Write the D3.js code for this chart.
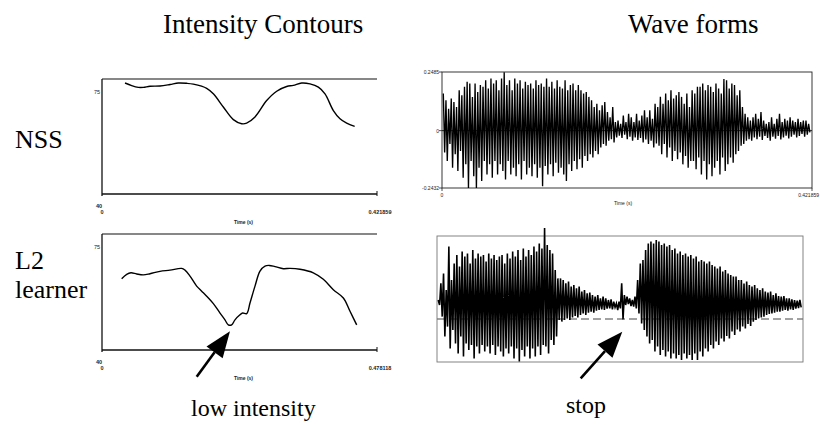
<!DOCTYPE html>
<html>
<head>
<meta charset="utf-8">
<script src="https://cdn.jsdelivr.net/npm/d3@7"></script>
<style>
  body { margin: 0; background: #fff; }
  .serif { font-family: "Liberation Serif", "Times New Roman", serif; fill: #000; }
  .tiny { font-family: "Liberation Sans", Arial, sans-serif; font-size: 5.5px; fill: #222; }
</style>
</head>
<body>
<div class="chart_box"></div>
<script>
// Intensity contours (time in s, intensity in dB)
const nssTime = [0.0353, 0.0455, 0.0557, 0.0634, 0.0736, 0.0890, 0.1043, 0.1171, 0.1299, 0.1401,
  0.1606, 0.1708, 0.1861, 0.2015, 0.2143, 0.2219, 0.2347, 0.2526, 0.2680, 0.2833,
  0.2935, 0.3063, 0.3191, 0.3319, 0.3421, 0.3549, 0.3651, 0.3753, 0.3876];
const nssDb = [77.9, 77.0, 76.4, 76.4, 76.8, 76.9, 77.4, 77.9, 77.8, 77.5,
  76.1, 74.2, 69.7, 65.4, 64.0, 64.2, 66.3, 71.9, 75.1, 76.7,
  77.1, 77.9, 77.6, 76.5, 74.2, 68.5, 65.7, 64.2, 63.1];

const l2Time = [0.0342, 0.0429, 0.0504, 0.0603, 0.0719, 0.0835, 0.1008, 0.1182, 0.1385, 0.1443,
  0.1530, 0.1646, 0.1733, 0.1820, 0.1936, 0.2052, 0.2138, 0.2196, 0.2254, 0.2312,
  0.2399, 0.2446, 0.2515, 0.2573, 0.2660, 0.2747, 0.2834, 0.2909, 0.3008, 0.3153,
  0.3268, 0.3442, 0.3674, 0.3848, 0.4022, 0.4196, 0.4312, 0.4428];
const l2Db = [64.1, 65.6, 66.1, 65.7, 65.4, 65.8, 66.6, 67.0, 67.6, 67.0,
  65.0, 61.6, 59.9, 58.2, 55.7, 52.5, 50.2, 48.5, 48.5, 50.2,
  51.9, 52.5, 52.3, 55.9, 61.6, 66.7, 68.4, 68.6, 68.2, 67.5,
  67.6, 67.3, 66.1, 63.9, 60.4, 57.6, 53.1, 48.5];

// Waveforms: positive and negative peak of each pitch period
const nssWaveHi = [0.157, 0.129, 0.093, 0.136, 0.121, 0.100, 0.171, 0.150, 0.186, 0.207,
  0.200, 0.143, 0.200, 0.164, 0.193, 0.186, 0.214, 0.179, 0.221, 0.200,
  0.214, 0.171, 0.221, 0.247, 0.193, 0.214, 0.171, 0.221, 0.200, 0.214,
  0.179, 0.207, 0.193, 0.200, 0.179, 0.214, 0.193, 0.200, 0.186, 0.221,
  0.186, 0.207, 0.179, 0.214, 0.186, 0.179, 0.214, 0.171, 0.193, 0.200,
  0.171, 0.193, 0.171, 0.157, 0.164, 0.143, 0.129, 0.100, 0.114, 0.086,
  0.107, 0.121, 0.079, 0.057, 0.100, 0.036, 0.043, 0.029, 0.064,
  0.036, 0.071, 0.057, 0.036, 0.071, 0.043, 0.064, 0.086, 0.057, 0.086, 0.050, 0.114,
  0.100, 0.143, 0.114, 0.157, 0.129, 0.171, 0.136, 0.150, 0.164, 0.143,
  0.114, 0.157, 0.100, 0.171, 0.157, 0.186, 0.186, 0.200, 0.171, 0.193,
  0.186, 0.164, 0.200, 0.179, 0.157, 0.219, 0.214, 0.179, 0.200, 0.193,
  0.150, 0.171, 0.100, 0.071, 0.057, 0.043, 0.057,
  0.071, 0.050, 0.079, 0.043, 0.029, 0.036, 0.057, 0.029, 0.050, 0.071,
  0.036, 0.050, 0.043, 0.057, 0.043, 0.036, 0.050, 0.036, 0.043, 0.043, 0.029];
const nssWaveLo = [-0.093, -0.129, -0.057, -0.157, -0.100, -0.171, -0.086, -0.200, -0.143, -0.243,
  -0.129, -0.193, -0.243, -0.157, -0.214, -0.129, -0.186, -0.143, -0.200, -0.129,
  -0.186, -0.143, -0.171, -0.207, -0.129, -0.186, -0.157, -0.193, -0.143, -0.207,
  -0.129, -0.186, -0.157, -0.193, -0.143, -0.200, -0.157, -0.236, -0.150, -0.186,
  -0.143, -0.193, -0.136, -0.179, -0.157, -0.186, -0.214, -0.143, -0.171, -0.129,
  -0.164, -0.121, -0.157, -0.107, -0.129, -0.100, -0.114, -0.086, -0.100, -0.071,
  -0.057, -0.064, -0.043, -0.036, -0.050, -0.029, -0.021, -0.031, -0.017,
  -0.036, -0.026, -0.043, -0.029, -0.040, -0.031, -0.050, -0.037, -0.057, -0.043, -0.071, -0.054,
  -0.064, -0.100, -0.057, -0.114, -0.071, -0.129, -0.086, -0.121, -0.093, -0.143,
  -0.107, -0.157, -0.129, -0.129, -0.164, -0.114, -0.186, -0.129, -0.207, -0.143,
  -0.193, -0.157, -0.129, -0.186, -0.114, -0.171, -0.143, -0.114, -0.136, -0.100,
  -0.086, -0.064, -0.057, -0.043, -0.036, -0.043, -0.029,
  -0.036, -0.026, -0.040, -0.023, -0.031, -0.043, -0.026, -0.034, -0.023, -0.037,
  -0.029, -0.021, -0.033, -0.026, -0.017, -0.029, -0.023, -0.014, -0.026, -0.017, -0.007];

const l2WaveHi = [0.095, 0.178, 0.228, 0.145, 0.362, 0.195, 0.278, 0.320, 0.262, 0.337,
  0.312, 0.328, 0.278, 0.345, 0.303, 0.328, 0.312, 0.320, 0.287, 0.328,
  0.303, 0.320, 0.295, 0.312, 0.320, 0.278, 0.328, 0.303, 0.337, 0.312,
  0.345, 0.295, 0.353, 0.312, 0.345, 0.320, 0.362, 0.337, 0.378, 0.353,
  0.455, 0.370, 0.345, 0.328, 0.245, 0.203, 0.203, 0.195, 0.178, 0.187,
  0.162, 0.170, 0.153, 0.162, 0.137, 0.145, 0.128, 0.132, 0.120, 0.112,
  0.120, 0.103, 0.112, 0.103, 0.095, 0.098, 0.087, 0.078, 0.087, 0.178,
  0.120, 0.112, 0.103, 0.095, 0.112, 0.195, 0.278, 0.295, 0.345, 0.378,
  0.387, 0.378, 0.395, 0.387, 0.370, 0.378, 0.362, 0.370, 0.345, 0.353,
  0.328, 0.337, 0.320, 0.328, 0.312, 0.320, 0.303, 0.312, 0.287, 0.295,
  0.287, 0.278, 0.287, 0.270, 0.262, 0.253, 0.262, 0.237, 0.245, 0.228,
  0.220, 0.212, 0.212, 0.195, 0.195, 0.178, 0.187, 0.170, 0.162, 0.170,
  0.153, 0.145, 0.153, 0.137, 0.132, 0.137, 0.120, 0.128, 0.115, 0.112,
  0.115, 0.103, 0.103, 0.098, 0.095, 0.092, 0.095];
const l2WaveLo = [0.070, 0.012, -0.088, -0.038, -0.147, -0.055, -0.122, -0.172, -0.088, -0.188,
  -0.122, -0.155, -0.130, -0.197, -0.138, -0.172, -0.130, -0.163, -0.138, -0.172,
  -0.130, -0.180, -0.138, -0.163, -0.188, -0.147, -0.172, -0.138, -0.197, -0.147,
  -0.213, -0.155, -0.188, -0.138, -0.197, -0.147, -0.188, -0.138, -0.180, -0.130,
  -0.138, -0.172, -0.105, -0.130, -0.088, -0.005, -0.013, -0.005, 0.003, -0.005,
  0.008, 0.015, 0.008, 0.020, 0.028, 0.020, 0.032, 0.037, 0.032, 0.042,
  0.045, 0.048, 0.045, 0.052, 0.053, 0.048, 0.058, 0.045, 0.053, -0.002,
  0.070, 0.075, 0.065, 0.062, 0.053, 0.028, -0.022, -0.055, -0.088, -0.122,
  -0.105, -0.163, -0.138, -0.180, -0.155, -0.188, -0.163, -0.197, -0.172, -0.197,
  -0.180, -0.205, -0.172, -0.197, -0.180, -0.205, -0.172, -0.205, -0.163, -0.188,
  -0.147, -0.163, -0.130, -0.147, -0.113, -0.130, -0.097, -0.113, -0.085, -0.097,
  -0.063, -0.080, -0.052, -0.063, -0.038, -0.047, -0.025, -0.035, -0.013, -0.005,
  0.003, 0.008, 0.012, 0.020, 0.025, 0.028, 0.032, 0.037, 0.037, 0.042,
  0.045, 0.042, 0.048, 0.045, 0.052, 0.055, 0.058];

// Axis end values and tick labels
const nssDuration = 0.421859;
const l2Duration = 0.478118;
const nssWaveSpan = [0.0015, 0.418];
const l2WaveSpan = [0.0016, 0.474];
const waveTicks = [0.2485, 0, -0.2432];
const waveTickLabels = ["0.2485", "0", "-0.2432"];

const svg = d3
  .select(".chart_box")
  .append("svg")
  .attr("width", 820)
  .attr("height", 425);

// Column titles and row labels
svg.append("text").attr("class", "serif").attr("x", 163).attr("y", 33)
  .style("font-size", "27px").text("Intensity Contours");
svg.append("text").attr("class", "serif").attr("x", 628).attr("y", 33)
  .style("font-size", "27px").text("Wave forms");
svg.append("text").attr("class", "serif").attr("x", 15).attr("y", 148)
  .style("font-size", "26px").text("NSS");
svg.append("text").attr("class", "serif").attr("x", 15).attr("y", 269)
  .style("font-size", "26px").text("L2");
svg.append("text").attr("class", "serif").attr("x", 15).attr("y", 298)
  .style("font-size", "26px").text("learner");
svg.append("text").attr("class", "serif").attr("x", 191).attr("y", 416)
  .style("font-size", "24px").text("low intensity");
svg.append("text").attr("class", "serif").attr("x", 566).attr("y", 413)
  .style("font-size", "24px").text("stop");

// Intensity panel
function intensityPanel(time, db, duration, left, right, top, bottom, endLabel) {
  const x = d3.scaleLinear().domain([0, duration]).range([left, right]);
  const y = d3.scaleLinear().domain([40, 75]).range([bottom, top + 12.5]);
  const g = svg.append("g");

  // frame
  g.append("line").attr("x1", left).attr("x2", right).attr("y1", top).attr("y2", top)
    .attr("stroke", "#111").attr("stroke-width", 1.2);
  g.append("line").attr("x1", left).attr("x2", left).attr("y1", top).attr("y2", bottom + 2)
    .attr("stroke", "#111").attr("stroke-width", 1.3);
  g.append("line").attr("x1", left).attr("x2", right).attr("y1", bottom).attr("y2", bottom)
    .attr("stroke", "#111").attr("stroke-width", 1.3);
  g.append("line").attr("x1", right).attr("x2", right).attr("y1", bottom - 3).attr("y2", bottom + 2)
    .attr("stroke", "#111").attr("stroke-width", 1);

  g.append("text").attr("class", "tiny").attr("x", left - 2).attr("y", y(75) + 2)
    .attr("text-anchor", "end").text("75");
  g.append("text").attr("class", "tiny").attr("x", left - 3).attr("y", bottom + 14)
    .attr("text-anchor", "middle").style("font-weight", "bold").text("40");
  g.append("text").attr("class", "tiny").attr("x", left).attr("y", bottom + 20)
    .attr("text-anchor", "middle").style("font-weight", "bold").text("0");
  g.append("text").attr("class", "tiny").attr("x", (left + right) / 2 + 4).attr("y", bottom + 30)
    .attr("text-anchor", "middle").style("font-weight", "bold").style("font-size", "5px").text("Time (s)");
  g.append("text").attr("class", "tiny").attr("x", right + 3).attr("y", bottom + 20)
    .attr("text-anchor", "middle").style("font-weight", "bold").text(endLabel);

  const line = d3.line()
    .x((d, i) => x(time[i]))
    .y((d) => y(d))
    .curve(d3.curveCatmullRom.alpha(0.5));
  g.append("path").datum(db).attr("d", line)
    .attr("fill", "none").attr("stroke", "#000").attr("stroke-width", 1.4);
  return { x, y };
}

const nssPanel = intensityPanel(nssTime, nssDb, nssDuration, 102, 377, 79, 194, "0.421859");
const l2Panel = intensityPanel(l2Time, l2Db, l2Duration, 102, 377, 234, 350, "0.478118");

// Waveform drawn as zig-zag through the peaks of each period
function wavePath(hi, lo, span, x, y) {
  const t = d3.scaleLinear().domain([0, hi.length - 1]).range(span);
  const half = (span[1] - span[0]) / (hi.length - 1) / 2;
  const pts = [];
  hi.forEach((h, i) => {
    pts.push([t(i), h]);
    pts.push([t(i) + half, lo[i]]);
  });
  return d3.line().x((d) => x(d[0])).y((d) => y(d[1]))(pts);
}

// NSS waveform, with axes
{
  const x = d3.scaleLinear().domain([0, nssDuration]).range([442, 812]);
  const y = d3.scaleLinear().domain([-0.2432, 0.2485]).range([188, 72]);
  const g = svg.append("g");
  g.append("rect").attr("x", 442).attr("y", 72).attr("width", 370).attr("height", 116)
    .attr("fill", "none").attr("stroke", "#222").attr("stroke-width", 0.9);
  g.append("line").attr("x1", 442).attr("x2", 812).attr("y1", y(0)).attr("y2", y(0))
    .attr("stroke", "#000").attr("stroke-width", 0.8);
  g.append("path").attr("d", wavePath(nssWaveHi, nssWaveLo, nssWaveSpan, x, y))
    .attr("fill", "none").attr("stroke", "#000").attr("stroke-width", 1.35);
  g.selectAll(".ytick").data(waveTicks).enter().append("line")
    .attr("x1", 439).attr("x2", 442).attr("y1", (d) => y(d)).attr("y2", (d) => y(d))
    .attr("stroke", "#222").attr("stroke-width", 0.8);
  g.selectAll(".ylab").data(waveTicks).enter().append("text")
    .attr("class", "tiny").attr("x", 439).attr("y", (d) => y(d) + 2)
    .attr("text-anchor", "end").style("font-size", "5px")
    .text((d, i) => waveTickLabels[i]);
  g.selectAll(".xtick").data([0, nssDuration]).enter().append("line")
    .attr("x1", (d) => x(d)).attr("x2", (d) => x(d)).attr("y1", 188).attr("y2", 191)
    .attr("stroke", "#222").attr("stroke-width", 0.8);
  g.append("text").attr("class", "tiny").attr("x", x(0)).attr("y", 197)
    .attr("text-anchor", "middle").style("font-size", "5px").text("0");
  g.append("text").attr("class", "tiny").attr("x", 819).attr("y", 197)
    .attr("text-anchor", "end").style("font-size", "5px").text("0.421859");
  g.append("text").attr("class", "tiny").attr("x", 623).attr("y", 205)
    .attr("text-anchor", "middle").style("font-size", "5px").text("Time (s)");
}

// L2 waveform
{
  const x = d3.scaleLinear().domain([0, l2Duration]).range([437, 803]);
  const y = d3.scaleLinear().domain([-0.215, 0.415]).range([362, 236]);
  const g = svg.append("g");
  g.append("line").attr("x1", 437).attr("x2", 803).attr("y1", y(0)).attr("y2", y(0))
    .attr("stroke", "#444").attr("stroke-width", 1).attr("stroke-dasharray", "8,4");
  g.append("rect").attr("x", 437).attr("y", 236).attr("width", 366).attr("height", 126)
    .attr("fill", "none").attr("stroke", "#777").attr("stroke-width", 0.9);
  g.append("path").attr("d", wavePath(l2WaveHi, l2WaveLo, l2WaveSpan, x, y))
    .attr("fill", "none").attr("stroke", "#000").attr("stroke-width", 1.6);
}

// Arrows
function arrow(x1, y1, x2, y2) {
  const ang = Math.atan2(y2 - y1, x2 - x1);
  const len = 26, wid = 10;
  const bx = x2 - len * Math.cos(ang), by = y2 - len * Math.sin(ang);
  const px = -Math.sin(ang) * wid, py = Math.cos(ang) * wid;
  svg.append("line").attr("x1", x1).attr("y1", y1).attr("x2", bx).attr("y2", by)
    .attr("stroke", "#000").attr("stroke-width", 2.6);
  svg.append("path")
    .attr("d", `M${x2},${y2}L${bx + px},${by + py}L${bx - px},${by - py}Z`)
    .attr("fill", "#000");
}
arrow(196.7, 376.7, l2Panel.x(0.2225), l2Panel.y(46.3));
arrow(580.7, 378.3, 622.3, 331.7);
</script>
</body>
</html>
